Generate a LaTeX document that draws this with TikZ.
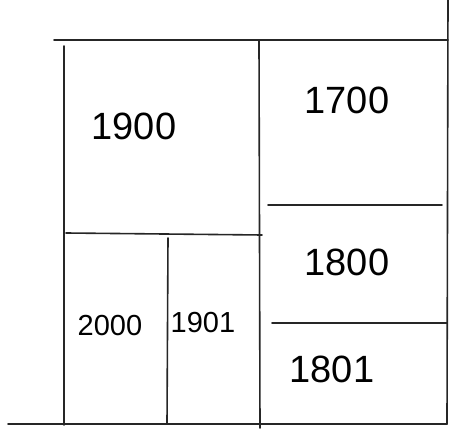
\documentclass[tikz,border=0pt]{standalone}
\usepackage{fontspec}
\setmainfont{Liberation Sans}
\begin{document}
\begin{tikzpicture}[x=1pt,y=-1pt,
  wall/.style={line width=1.6pt, draw=black!85, line cap=round},
  big/.style={font=\fontsize{38}{40}\selectfont, inner sep=0pt},
  small/.style={font=\fontsize{29}{31}\selectfont, inner sep=0pt}]
\useasboundingbox (0,0) rectangle (451,433);
% outer / main lines
\draw[wall] (54,40) -- (448,40);
\draw[wall] (64,46) -- (64,425);
\draw[wall] (259,40) -- (260,428);
\draw[wall] (448,0) -- (447,424);
\draw[wall] (8,424) -- (447,424);
% left column split
\draw[wall] (66,233) -- (262,235);
\draw[wall] (168,238) -- (167,424);
% right column splits
\draw[wall] (268,205) -- (442,205);
\draw[wall] (272,323) -- (447,323);
% labels
\node[big] (n1900) at (134,126) {1900};
\node[big] (n1700) at (347,100) {1700};
\node[big] (n1800) at (347,262) {1800};
\node[small] (n2000) at (110,326) {2000};
\node[small] (n1901) at (203,323) {1901};
\node[big] (n1801) at (332,369) {1801};
\end{tikzpicture}
\end{document}
